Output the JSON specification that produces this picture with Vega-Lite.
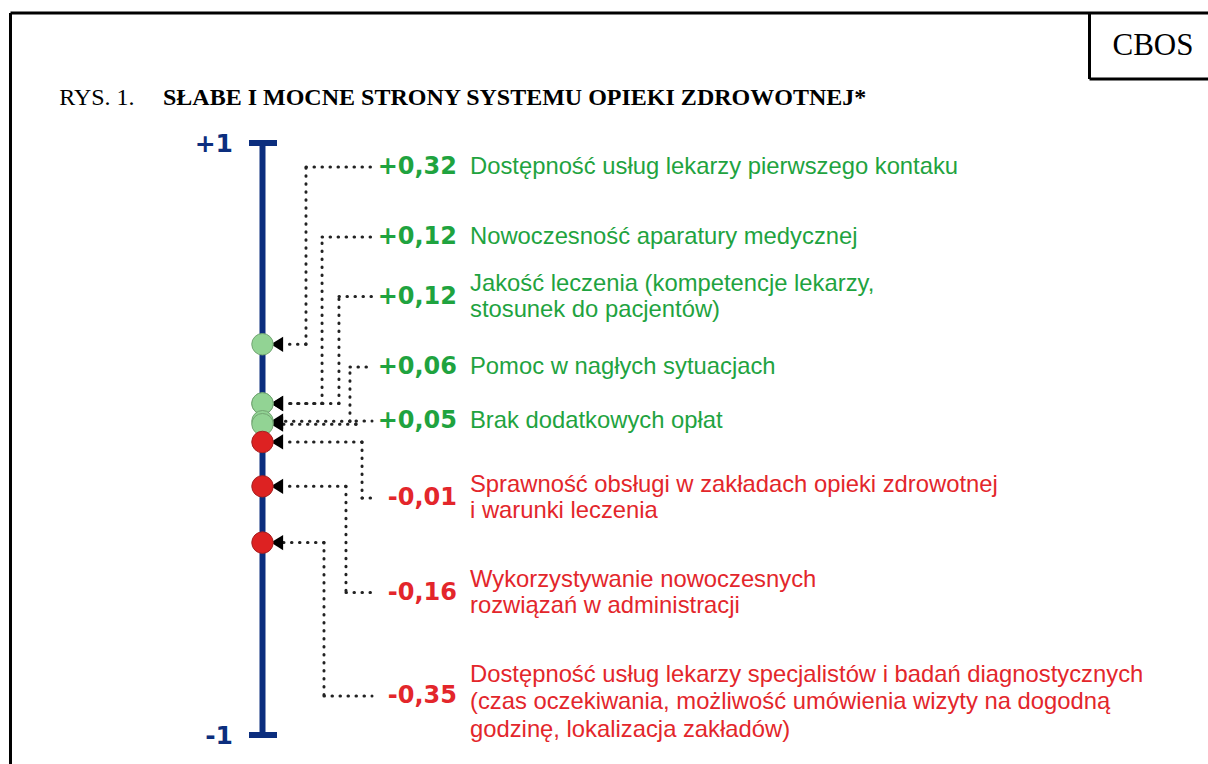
{
  "$schema": "https://vega.github.io/schema/vega-lite/v6.json",
  "width": 1208,
  "height": 764,
  "autosize": {"type": "none"},
  "padding": 0,
  "background": "white",
  "config": {
    "view": {"stroke": null},
    "locale": {"number": {"decimal": ",", "thousands": " ", "grouping": [3], "currency": ["", " zł"], "minus": "-"}}
  },
  "datasets": {
    "items": [
      {"value": 0.32, "text": ["Dostępność usług lekarzy pierwszego kontaku"], "labelAt": 0.9189, "elbow": 25.33},
      {"value": 0.12, "text": ["Nowoczesność aparatury medycznej"], "labelAt": 0.6824, "elbow": 26.66},
      {"value": 0.12, "text": ["Jakość leczenia (kompetencje lekarzy,", "stosunek do pacjentów)"], "labelAt": 0.4814, "elbow": 28.06},
      {"value": 0.06, "text": ["Pomoc w nagłych sytuacjach"], "labelAt": 0.2432, "elbow": 28.97},
      {"value": 0.05, "text": ["Brak dodatkowych opłat"], "labelAt": 0.0608, "elbow": 29.47},
      {"value": -0.01, "text": ["Sprawność obsługi w zakładach opieki zdrowotnej", "i warunki leczenia"], "labelAt": -0.1993, "elbow": 29.97},
      {"value": -0.16, "text": ["Wykorzystywanie nowoczesnych", "rozwiązań w administracji"], "labelAt": -0.5186, "elbow": 28.64},
      {"value": -0.35, "text": ["Dostępność usług lekarzy specjalistów i badań diagnostycznych", "(czas oczekiwania, możliwość umówienia wizyty na dogodną", "godzinę, lokalizacja zakładów)"], "labelAt": -0.8682, "elbow": 26.82}
    ],
    "ends": [
      {"end": 1, "label": "+1"},
      {"end": -1, "label": "-1"}
    ],
    "one": [{"k": 1}]
  },
  "layer": [
    {
      "data": {"name": "one"},
      "mark": {"type": "rule", "stroke": "black", "strokeWidth": 3},
      "encoding": {
        "x": {"datum": 0.869, "type": "quantitative", "scale": {"domain": [0, 100], "nice": false, "zero": false}, "axis": null},
        "x2": {"datum": 102},
        "y": {"datum": 1.4392, "type": "quantitative", "scale": {"domain": [-1.09797, 1.48311], "nice": false, "zero": false}, "axis": null}
      }
    },
    {
      "data": {"name": "one"},
      "mark": {"type": "rule", "stroke": "black", "strokeWidth": 3},
      "encoding": {
        "x": {"datum": 0.869, "type": "quantitative"},
        "y": {"datum": 1.4392, "type": "quantitative"},
        "y2": {"datum": -1.3}
      }
    },
    {
      "data": {"name": "one"},
      "mark": {"type": "rule", "stroke": "black", "strokeWidth": 3},
      "encoding": {
        "x": {"datum": 90.19, "type": "quantitative"},
        "y": {"datum": 1.4392, "type": "quantitative"},
        "y2": {"datum": 1.2162}
      }
    },
    {
      "data": {"name": "one"},
      "mark": {"type": "rule", "stroke": "black", "strokeWidth": 3},
      "encoding": {
        "x": {"datum": 90.19, "type": "quantitative"},
        "x2": {"datum": 102},
        "y": {"datum": 1.2162, "type": "quantitative"}
      }
    },
    {
      "data": {"name": "one"},
      "mark": {"type": "text", "text": "CBOS", "font": "Liberation Serif", "fontSize": 31, "align": "center", "baseline": "alphabetic", "color": "black"},
      "encoding": {
        "x": {"datum": 95.447, "type": "quantitative"},
        "y": {"datum": 1.2973, "type": "quantitative"}
      }
    },
    {
      "data": {"name": "one"},
      "mark": {"type": "text", "text": "RYS. 1.", "font": "Liberation Serif", "fontSize": 24, "align": "left", "baseline": "alphabetic", "color": "black"},
      "encoding": {
        "x": {"datum": 4.9, "type": "quantitative"},
        "y": {"datum": 1.1284, "type": "quantitative"}
      }
    },
    {
      "data": {"name": "one"},
      "mark": {"type": "text", "text": "SŁABE I MOCNE STRONY SYSTEMU OPIEKI ZDROWOTNEJ*", "font": "Liberation Serif", "fontWeight": "bold", "fontSize": 24, "align": "left", "baseline": "alphabetic", "color": "black"},
      "encoding": {
        "x": {"datum": 13.493, "type": "quantitative"},
        "y": {"datum": 1.1284, "type": "quantitative"}
      }
    },
    {
      "data": {"name": "one"},
      "mark": {"type": "rule", "stroke": "#0c2e7e", "strokeWidth": 6},
      "encoding": {
        "x": {"datum": 21.73, "type": "quantitative"},
        "y": {"datum": 1, "type": "quantitative"},
        "y2": {"datum": -1}
      }
    },
    {
      "data": {"name": "ends"},
      "mark": {"type": "rule", "stroke": "#0c2e7e", "strokeWidth": 6},
      "encoding": {
        "x": {"datum": 20.613, "type": "quantitative"},
        "x2": {"datum": 22.93},
        "y": {"field": "end", "type": "quantitative"}
      }
    },
    {
      "data": {"name": "ends"},
      "mark": {"type": "text", "font": "DejaVu Sans", "fontWeight": "bold", "fontSize": 25, "align": "right", "baseline": "middle", "color": "#0c2e7e", "dy": 1},
      "encoding": {
        "x": {"datum": 19.288, "type": "quantitative"},
        "y": {"field": "end", "type": "quantitative"},
        "text": {"field": "label", "type": "nominal"}
      }
    },
    {
      "data": {"name": "items"},
      "mark": {"type": "rule", "stroke": "#222222", "strokeWidth": 3, "strokeDash": [0.5, 7.5], "strokeCap": "round"},
      "encoding": {
        "x": {"field": "elbow", "type": "quantitative"},
        "x2": {"datum": 23.43},
        "y": {"field": "value", "type": "quantitative"}
      }
    },
    {
      "data": {"name": "items"},
      "mark": {"type": "rule", "stroke": "#222222", "strokeWidth": 3, "strokeDash": [0.5, 7.5], "strokeCap": "round"},
      "encoding": {
        "x": {"field": "elbow", "type": "quantitative"},
        "y": {"field": "value", "type": "quantitative"},
        "y2": {"field": "labelAt"}
      }
    },
    {
      "data": {"name": "items"},
      "mark": {"type": "rule", "stroke": "#222222", "strokeWidth": 3, "strokeDash": [0.5, 7.5], "strokeCap": "round"},
      "encoding": {
        "x": {"field": "elbow", "type": "quantitative"},
        "x2": {"datum": 30.795},
        "y": {"field": "labelAt", "type": "quantitative"}
      }
    },
    {
      "data": {"name": "items"},
      "mark": {"type": "point", "shape": "M 1 -1.25 L -1 0 L 1 1.25 Z", "filled": true, "color": "black", "size": 150, "opacity": 1},
      "encoding": {
        "x": {"datum": 22.93, "type": "quantitative"},
        "y": {"field": "value", "type": "quantitative"}
      }
    },
    {
      "data": {"name": "items"},
      "mark": {"type": "point", "shape": "circle", "filled": true, "size": 460, "strokeWidth": 1, "opacity": 1},
      "encoding": {
        "x": {"datum": 21.73, "type": "quantitative"},
        "y": {"field": "value", "type": "quantitative"},
        "fill": {"field": "value", "type": "quantitative", "scale": {"type": "threshold", "domain": [0], "range": ["#dd2222", "#92d394"]}, "legend": null},
        "stroke": {"field": "value", "type": "quantitative", "scale": {"type": "threshold", "domain": [0], "range": ["#a52020", "#72a572"]}, "legend": null}
      }
    },
    {
      "data": {"name": "items"},
      "mark": {"type": "text", "font": "DejaVu Sans", "fontWeight": "bold", "fontSize": 24, "align": "right", "baseline": "middle"},
      "encoding": {
        "x": {"datum": 37.831, "type": "quantitative"},
        "y": {"field": "labelAt", "type": "quantitative"},
        "text": {"field": "value", "type": "quantitative", "format": "+.2f"},
        "color": {"field": "value", "type": "quantitative", "scale": {"type": "threshold", "domain": [0], "range": ["#e3262b", "#1fa33f"]}, "legend": null}
      }
    },
    {
      "data": {"name": "items"},
      "transform": [{"filter": "length(datum.text) == 1"}],
      "mark": {"type": "text", "font": "Liberation Sans", "fontSize": 23.8, "lineHeight": 27, "align": "left", "baseline": "middle"},
      "encoding": {
        "x": {"datum": 38.907, "type": "quantitative"},
        "y": {"field": "labelAt", "type": "quantitative"},
        "text": {"field": "text", "type": "nominal"},
        "color": {"field": "value", "type": "quantitative", "scale": {"type": "threshold", "domain": [0], "range": ["#e3262b", "#1fa33f"]}, "legend": null}
      }
    },
    {
      "data": {"name": "items"},
      "transform": [{"filter": "length(datum.text) == 2"}],
      "mark": {"type": "text", "font": "Liberation Sans", "fontSize": 23.8, "lineHeight": 26, "align": "left", "baseline": "middle", "dy": -13},
      "encoding": {
        "x": {"datum": 38.907, "type": "quantitative"},
        "y": {"field": "labelAt", "type": "quantitative"},
        "text": {"field": "text", "type": "nominal"},
        "color": {"field": "value", "type": "quantitative", "scale": {"type": "threshold", "domain": [0], "range": ["#e3262b", "#1fa33f"]}, "legend": null}
      }
    },
    {
      "data": {"name": "items"},
      "transform": [{"filter": "length(datum.text) == 3"}],
      "mark": {"type": "text", "font": "Liberation Sans", "fontSize": 23.8, "lineHeight": 27.5, "align": "left", "baseline": "middle", "dy": -21},
      "encoding": {
        "x": {"datum": 38.907, "type": "quantitative"},
        "y": {"field": "labelAt", "type": "quantitative"},
        "text": {"field": "text", "type": "nominal"},
        "color": {"field": "value", "type": "quantitative", "scale": {"type": "threshold", "domain": [0], "range": ["#e3262b", "#1fa33f"]}, "legend": null}
      }
    }
  ]
}
